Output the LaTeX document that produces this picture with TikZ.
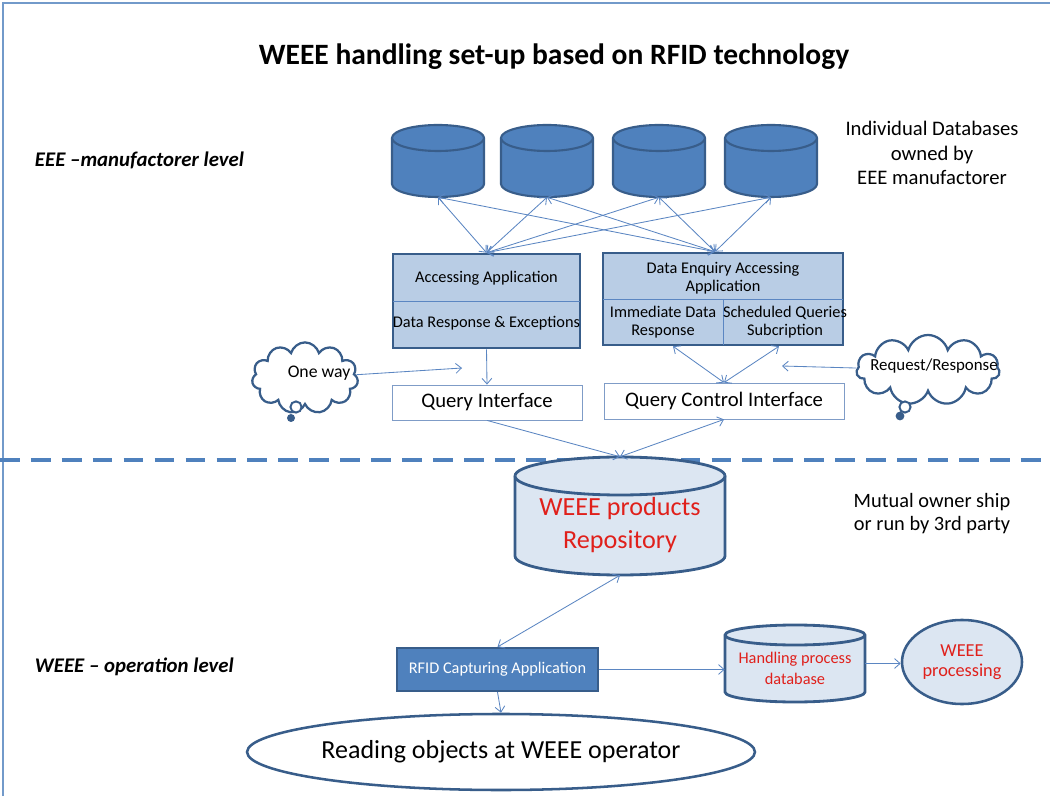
\documentclass[tikz,border=0pt]{standalone}
\usepackage{fontspec}
\setmainfont{Carlito}
\usetikzlibrary{arrows.meta,shapes.geometric,shapes.symbols,calc}
\definecolor{myblue}{HTML}{4F81BD}
\definecolor{mydark}{HTML}{385D8A}
\definecolor{mylight}{HTML}{B9CDE5}
\definecolor{mypale}{HTML}{DCE6F2}
\definecolor{myline}{HTML}{5B86C2}
\definecolor{myred}{HTML}{E0201B}
\definecolor{mygrey}{HTML}{7F9CC7}

% cylinder: name, cx, top, bottom, rx, ry, style, text style, text
\newcommand{\dbcyl}[9]{%
  \filldraw[#7] (#2-#5,#3-#6) -- (#2-#5,#4+#6)
    arc[start angle=180, end angle=360, x radius=#5*0.025cm, y radius=#6*0.025cm]
    -- (#2+#5,#3-#6)
    arc[start angle=0, end angle=180, x radius=#5*0.025cm, y radius=#6*0.025cm] -- cycle;
  \draw[#7] (#2+#5,#3-#6)
    arc[start angle=0, end angle=-180, x radius=#5*0.025cm, y radius=#6*0.025cm];
  \node[inner sep=0, minimum width=#5*0.05cm, minimum height=(#3-#4)*0.025cm] (#1) at (#2,{(#3+#4)/2}) {};
  \node[align=center, #8] (#1-text) at (#2,{(#3+#4-#6)/2}) {#9};
}

\begin{document}
\begin{tikzpicture}[x=0.025cm, y=0.025cm, >={Straight Barb[length=4pt,width=7pt]},
    conn/.style={draw=myline, line width=0.6pt},
    appbox/.style={draw=mydark, line width=1.8pt, fill=mylight, inner sep=0},
    ifbox/.style={draw=mygrey, line width=0.6pt, fill=white, inner sep=0, font=\fontsize{14.7}{16}\selectfont},
    thought/.style={cloud, cloud puffs=11, cloud ignores aspect, draw=mydark, line width=1.6pt, fill=white, inner sep=0},
    dbdark/.style={fill=myblue, draw=mydark, line width=1.5pt},
    dbpale/.style={fill=mypale, draw=mydark, line width=2pt},
    small/.style={font=\fontsize{11.6}{12.5}\selectfont, align=center},
    side/.style={font=\fontsize{14.7}{17.4}\selectfont, align=center},
    level/.style={font=\fontsize{14.8}{17}\selectfont\bfseries\itshape, anchor=west}]

  \useasboundingbox (0,0) rectangle (1050,796);

  % frame
  \draw[myblue!80, line width=1.2pt] (3,0) -- (3,793) -- (1050,793);

  % title and levels
  \node [name=title, font=\fontsize{21}{24}\selectfont\bfseries] at (554,739) {WEEE handling set-up based on RFID technology};
  \node [level, name=lvl1] at (30,636) {EEE –manufactorer level};
  \node [level, name=lvl2] at (30,129) {WEEE – operation level};

  % side notes
  \node [side, name=owners] at (932,643) {Individual Databases\\owned by\\EEE manufactorer};
  \node [side, name=mutual, font=\fontsize{14.5}{16.4}\selectfont] at (932,282) {Mutual owner ship\\or run by 3rd party};

  % manufacturer databases
  \foreach \i/\cx in {1/438, 2/547, 3/659, 4/771} {
    \dbcyl{db\i}{\cx}{671}{599}{46}{13}{dbdark}{}{}
  }

  % accessing applications
  \node [appbox, minimum width=4.675cm, minimum height=2.35cm, name=app1] at (486.5,495) {};
  \draw [myline, line width=0.6pt, shorten <=1pt, shorten >=1pt] (app1.west) -- (app1.east);
  \node [small, name=app1a] at (486.5,518) {Accessing Application};
  \node [small, name=app1b] at (486.5,473) {Data Response \& Exceptions};

  \node [appbox, minimum width=6cm, minimum height=2.3cm, name=app2] at (723,497) {};
  \draw [myline, line width=0.6pt, shorten <=1pt, shorten >=1pt] (app2.west) -- (app2.east);
  \draw [myline, line width=0.6pt, shorten >=1pt] (app2.center) -- (app2.south);
  \node [small, name=app2a] at (723,518) {Data Enquiry Accessing\\Application};
  \node [small, name=app2b] at (663,474) {Immediate Data\\Response};
  \node [small, name=app2c] at (785,474) {Scheduled Queries\\Subcription};

  % interfaces
  \node [ifbox, minimum width=4.75cm, minimum height=0.875cm, name=qi] at (487,393.5) {Query Interface};
  \node [ifbox, minimum width=6cm, minimum height=0.9cm, name=qci] at (724,395) {Query Control Interface};

  % thought clouds
  \node [thought, minimum width=2.65cm, minimum height=1.78cm, name=oneway] at (305,418) {};
  \node [font=\fontsize{12.6}{14}\selectfont, name=oneway-text] at (319,423) {One way};
  \node [circle, draw=mydark, line width=1.4pt, fill=white, minimum size=0.28cm, inner sep=0, name=oneway-b1] at (296,389) {};
  \node [circle, fill=mydark, minimum size=0.2cm, inner sep=0, name=oneway-b2] at (291,378) {};
  \coordinate (oneway-end) at (462,428);

  \node [thought, minimum width=3.58cm, minimum height=1.75cm, name=reqresp] at (928,426) {};
  \node [font=\fontsize{12}{14}\selectfont, name=reqresp-text] at (934,430) {Request/Response};
  \node [circle, draw=mydark, line width=1.4pt, fill=white, minimum size=0.28cm, inner sep=0, name=reqresp-b1] at (905,389) {};
  \node [circle, fill=mydark, minimum size=0.22cm, inner sep=0, name=reqresp-b2] at (900,380) {};
  \coordinate (reqresp-end) at (782,430);

  \draw [conn, ->] (oneway) -- (oneway-end);
  \draw [conn, ->] (reqresp) -- (reqresp-end);

  % links databases - applications
  \foreach \i in {1,...,4} {
    \draw [conn, <->] (db\i.south) -- (app1.north);
    \draw [conn, <->] (db\i.south) -- ($(app2.north)+(-8,0)$);
  }
  \draw [conn, ->] (app1.south) -- (qi.north);
  \draw [conn, <->] (qci.north) -- ($(app2.south)+(-50,0)$);
  \draw [conn, <->] (qci.north) -- ($(app2.south)+(56,0)$);

  % border between levels
  \draw [myblue, line width=2.6pt, dash pattern=on 14pt off 8pt] (0,336) -- (1050,336);

  % repository
  \dbcyl{repo}{620}{339}{221}{105}{19}{dbpale}{font=\fontsize{18.6}{23.5}\selectfont, text=myred}{WEEE products\\Repository}
  \draw [conn, ->] (qi.south) -- (repo.north);
  \draw [conn, <->] (qci.south) -- (repo.north);

  % operation level
  \node [fill=myblue, draw=mydark, line width=1.5pt, minimum width=5.025cm, minimum height=1.075cm, text=white, font=\fontsize{11.6}{13}\selectfont, name=rfid] at (497.5,126.5) {RFID Capturing Application};
  \node [ellipse, draw=mydark, line width=1.8pt, fill=white, minimum width=10.55cm, minimum height=1.9cm, inner sep=0, font=\fontsize{18.5}{20}\selectfont, name=reading] at (501,44) {Reading objects at WEEE operator};
  \dbcyl{hdb}{795}{171}{94}{70}{10}{dbpale}{font=\fontsize{11.6}{15}\selectfont, text=myred}{Handling process\\database}
  \node [ellipse, fill=mypale, draw=mydark, line width=1.8pt, minimum width=3cm, minimum height=2.1cm, inner sep=0, text=myred, font=\fontsize{13}{14}\selectfont, align=center, name=proc] at (962,134) {WEEE\\processing};

  \draw [conn, <->] (repo.south) -- (rfid.north);
  \draw [conn, ->] (rfid.south) -- (reading.north);
  \draw [conn, ->] (rfid.east) -- (rfid.east -| hdb.west);
  \draw [conn, ->] (hdb.east) -- (hdb.east -| proc.west);

\end{tikzpicture}
\end{document}
